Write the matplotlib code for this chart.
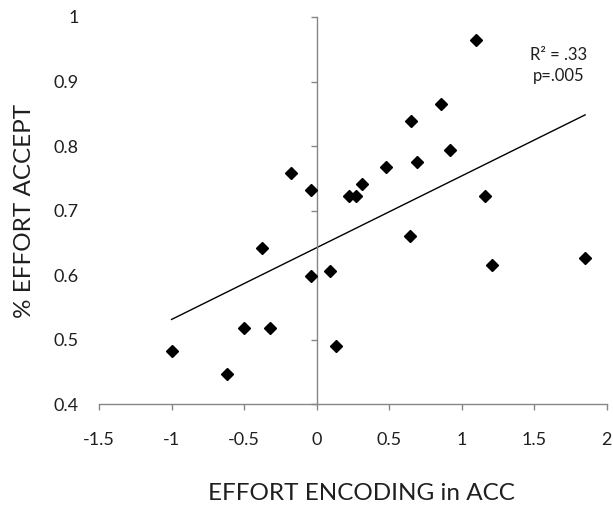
import numpy as np
import matplotlib
matplotlib.use("Agg")
import matplotlib.pyplot as plt

# effort encoding in ACC (x) vs proportion of effort accepted (y), one point per subject
effort_encoding = [-1.00, -0.62, -0.50, -0.32, -0.04, -0.18, -0.04, -0.38,
                   1.10, 0.86, 0.65, 0.92, 0.69, 0.48, 0.31, 0.22, 0.27,
                   1.16, 0.64, 1.85, 0.09, 0.13, 1.21]
effort_accept = [0.483, 0.447, 0.518, 0.518, 0.599, 0.759, 0.732, 0.643,
                 0.964, 0.866, 0.839, 0.794, 0.776, 0.768, 0.741, 0.723, 0.723,
                 0.723, 0.661, 0.627, 0.607, 0.491, 0.616]

x_ticks = [-1.5, -1, -0.5, 0, 0.5, 1, 1.5, 2]
x_tick_labels = ['-1.5', '-1', '-0.5', '0', '0.5', '1', '1.5', '2']
y_ticks = [0.4, 0.5, 0.6, 0.7, 0.8, 0.9, 1.0]
y_tick_labels = ['0.4', '0.5', '0.6', '0.7', '0.8', '0.9', '1']

stats_text = "R² = .33\np=.005"

plt.rcParams['font.family'] = ['Lato', 'DejaVu Sans']
text_col = '#1f1f1f'
axis_col = '#868686'

fig = plt.figure(figsize=(6.13, 5.07), dpi=100)
ax = fig.add_axes([0.1615, 0.2022, 0.8285, 0.7643])

x = np.array(effort_encoding)
y = np.array(effort_accept)

# linear trend line over the range of the data
slope, intercept = np.polyfit(x, y, 1)
xs = np.array([x.min(), x.max()])
ax.plot(xs, slope * xs + intercept, color='black', lw=1.0, zorder=2)

ax.plot(x, y, linestyle='none', marker='D', ms=6.5, color='black', zorder=3)

ax.set_xlim(-1.5, 2)
ax.set_ylim(0.4, 1.0)

# axes: vertical axis crosses at x = 0, labels stay on the far left
for side in ['top', 'right']:
    ax.spines[side].set_visible(False)
ax.spines['left'].set_position(('data', 0))
for side in ['left', 'bottom']:
    ax.spines[side].set_color(axis_col)
    ax.spines[side].set_linewidth(1.0)

ax.set_xticks(x_ticks)
ax.set_xticklabels(x_tick_labels)
ax.set_yticks(y_ticks)
ax.set_yticklabels(y_tick_labels)
ax.tick_params(axis='x', direction='out', length=4.3, width=1.0, color=axis_col,
               pad=15.5, labelsize=13, labelcolor=text_col)
ax.tick_params(axis='y', direction='out', length=4.3, width=1.0, color=axis_col,
               pad=167, labelsize=13, labelcolor=text_col)

ax.set_xlabel("EFFORT ENCODING in ACC", fontsize=17.5, color=text_col)
ax.xaxis.set_label_coords(0.516, -0.203)
ax.set_ylabel("% EFFORT ACCEPT", fontsize=17.5, color=text_col)
ax.yaxis.set_label_coords(-0.126, 0.5)

ax.text(1.67, 0.925, stats_text, ha='center', va='center', fontsize=12,
        color=text_col, linespacing=1.35)

fig.savefig("out.png", dpi=100)
